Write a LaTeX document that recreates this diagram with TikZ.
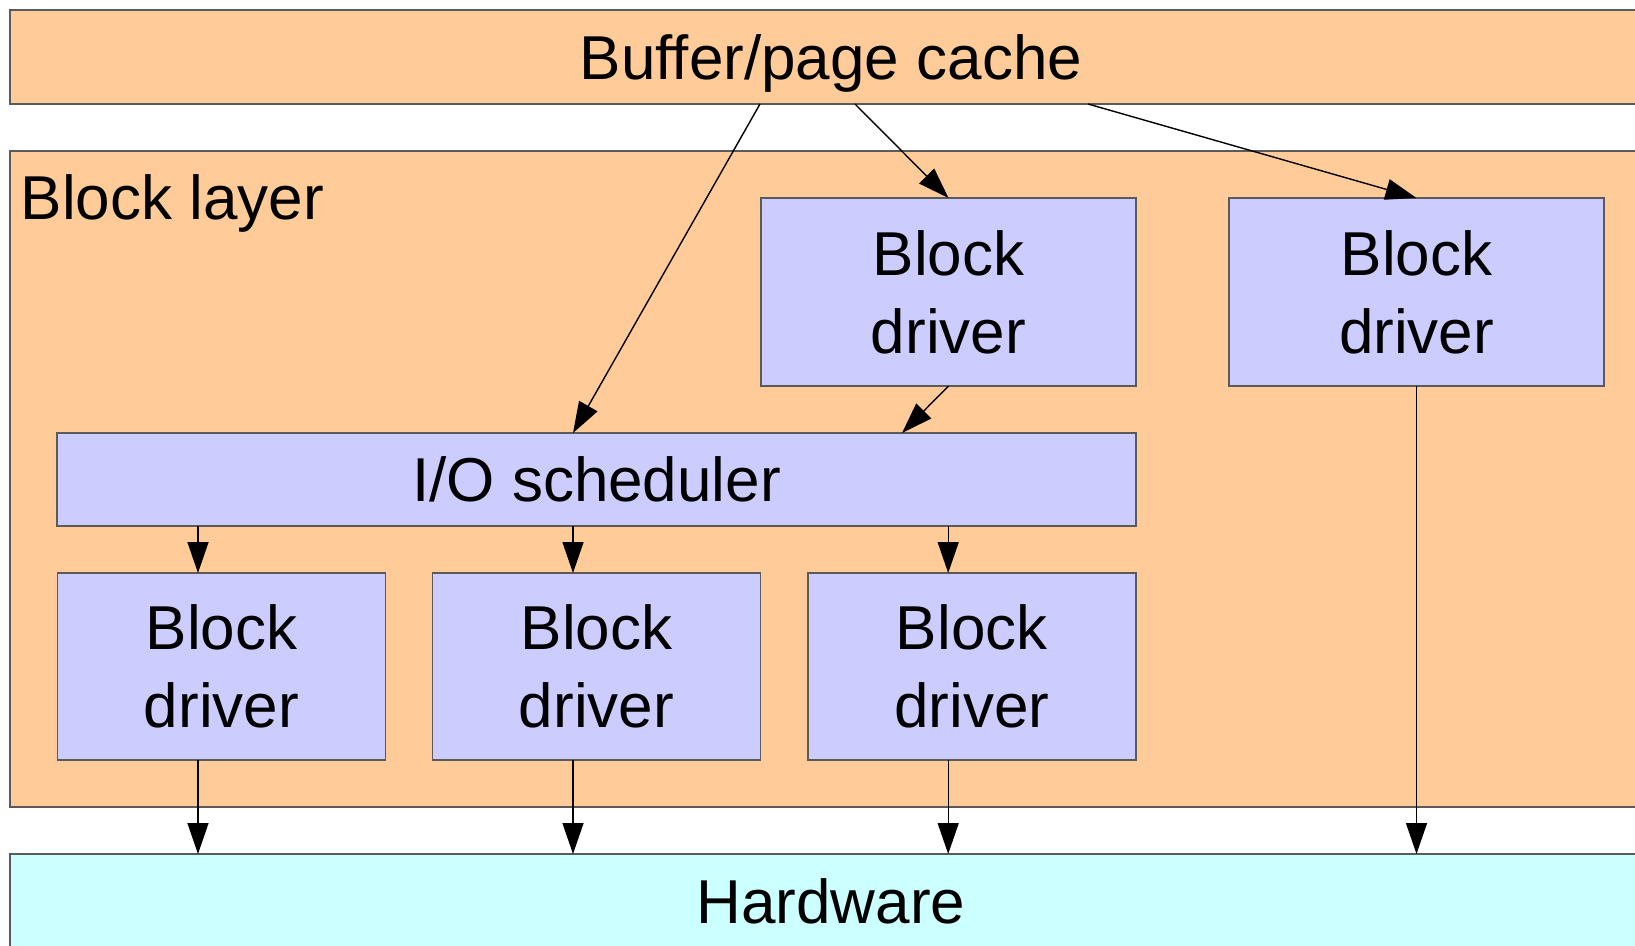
\documentclass[tikz,border=0pt]{standalone}
\usepackage{fontspec}
\setmainfont{Liberation Sans}
\usetikzlibrary{arrows.meta}
\definecolor{layerfill}{HTML}{FFCC99}
\definecolor{drvfill}{HTML}{CCCCFF}
\definecolor{hwfill}{HTML}{CCFFFF}
\definecolor{edgegray}{HTML}{5A5A5A}
\begin{document}
\begin{tikzpicture}[x=1pt,y=-1pt,
  box/.style={draw=edgegray, line width=1.6pt, inner sep=0pt, outer sep=0pt,
    font=\fontsize{62}{78}\selectfont, align=center},
  layer/.style={box, fill=layerfill, minimum width=1642pt},
  drv/.style={box, fill=drvfill, minimum height=188pt},
  onerow/.style={text height=44pt, text depth=0pt},
  arr/.style={line width=1.4pt, -{Triangle[length=31pt,width=21pt]}}]
  \clip (0,0) rectangle (1635,945);
  \fill[white] (0,0) rectangle (1635,945);

  % layers
  \node[layer, onerow, minimum height=94pt] (buf) at (831,57) {Buffer/page cache};
  \node[layer, minimum height=656pt] (blk) at (831,479) {};
  \node[anchor=base west, inner sep=0pt, font=\fontsize{62}{78}\selectfont]
    (blklabel) at ([xshift=10.5pt,yshift=-68pt]blk.north west) {Block layer};
  \node[layer, onerow, minimum height=94pt, fill=hwfill] (hw) at (831,901) {Hardware};

  % drivers above the scheduler
  \node[drv, minimum width=375pt] (da) at (948.5,292) {Block\\driver};
  \node[drv, minimum width=375pt] (db) at (1416.5,292) {Block\\driver};

  % scheduler
  \node[box, onerow, fill=drvfill, minimum width=1079pt, minimum height=93pt]
    (sched) at (596.5,479.5) {I/O scheduler};

  % drivers below the scheduler
  \node[drv, minimum width=328pt, minimum height=187pt] (d1) at (221.5,666.5) {Block\\driver};
  \node[drv, minimum width=328pt, minimum height=187pt] (d2) at (596.5,666.5) {Block\\driver};
  \node[drv, minimum width=328pt, minimum height=187pt] (d3) at (971.7,666.5) {Block\\driver};

  % requests from the cache
  \draw[arr] ([xshift=-71pt]buf.south) -- ([xshift=-23.5pt]sched.north);
  \draw[arr] ([xshift=24pt]buf.south) -- (da.north);
  \draw[arr] ([xshift=257pt]buf.south) -- (db.north);
  \draw[arr] (da.south) -- ([xshift=305.5pt]sched.north);

  % scheduler to drivers
  \draw[arr] ([xshift=-23.5pt]d1.north |- sched.south) -- ([xshift=-23.5pt]d1.north);
  \draw[arr] ([xshift=-23.5pt]d2.north |- sched.south) -- ([xshift=-23.5pt]d2.north);
  \draw[arr] ([xshift=-23.5pt]d3.north |- sched.south) -- ([xshift=-23.5pt]d3.north);

  % drivers to hardware
  \draw[arr] ([xshift=-23.5pt]d1.south) -- ([xshift=-23.5pt]d1.south |- hw.north);
  \draw[arr] ([xshift=-23.5pt]d2.south) -- ([xshift=-23.5pt]d2.south |- hw.north);
  \draw[arr] ([xshift=-23.5pt]d3.south) -- ([xshift=-23.5pt]d3.south |- hw.north);
  \draw[arr] (db.south) -- (db.south |- hw.north);
\end{tikzpicture}
\end{document}
